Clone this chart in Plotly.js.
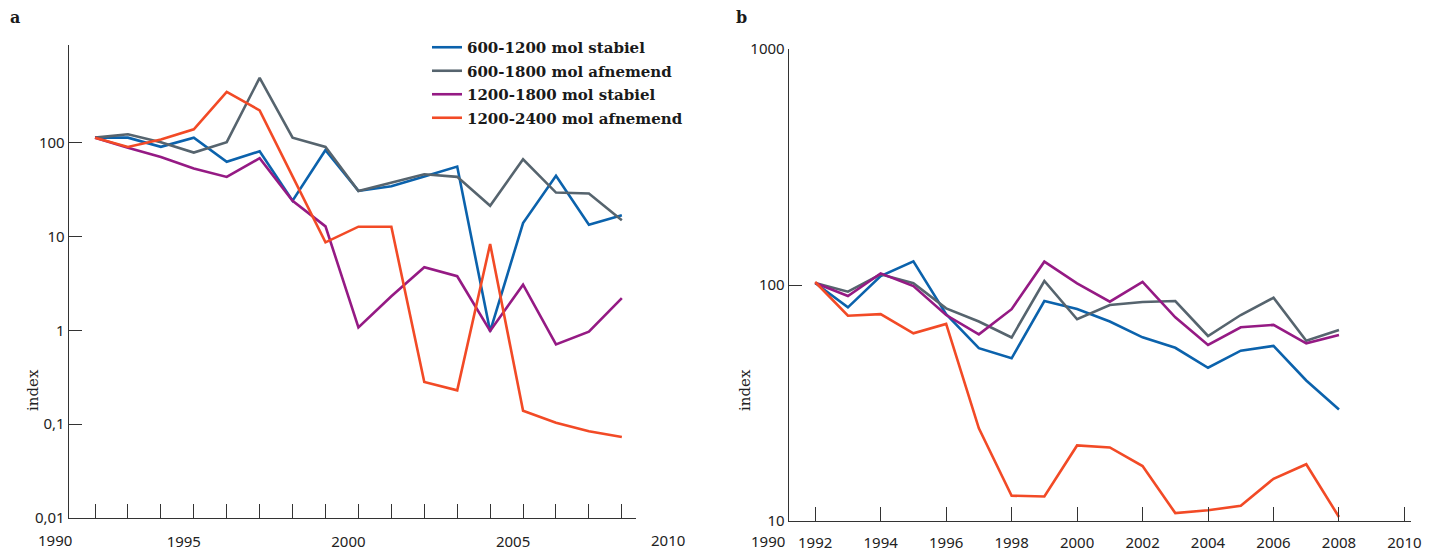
<!DOCTYPE html>
<html>
<head>
<meta charset="utf-8">
<script src="https://cdn.plot.ly/plotly-3.0.1.min.js"></script>
<style>
  html, body { margin: 0; padding: 0; background: #ffffff; }
  #chart { width: 1439px; height: 553px; }
</style>
</head>
<body>
<div id="chart"></div>
<script>
// ---------- data ----------
const years = [1992,1993,1994,1995,1996,1997,1998,1999,2000,2001,2002,2003,2004,2005,2006,2007,2008];
const seriesNames = ['600-1200 mol stabiel','600-1800 mol afnemend','1200-1800 mol stabiel','1200-2400 mol afnemend'];

// panel a
const aBlue   = [114,114,91,114,63,81.5,24.2,84,30.8,34.5,44,56,0.98,14,44.6,13.4,17];
const aGray   = [114,124,102,79,102,495,114,90.6,30.8,37.8,46.4,43.5,21.4,67,29.6,28.9,15];
const aPurple = [114,89,71,53.4,43.4,68.8,24.2,12.9,1.08,2.32,4.72,3.79,0.99,3.08,0.71,0.97,2.21];
const aOrange = [114,90.6,109,140,351,223,44,8.7,12.8,12.8,0.282,0.23,8.36,0.139,0.104,0.084,0.073];

// panel b
const bBlue   = [102,80.4,109,126,75.3,54,48.9,85.5,79.1,70,60,54.2,44.6,52.7,55.2,39.4,29.7];
const bGray   = [102,93.7,111,101.7,79.6,70,59.9,104,71.6,82.3,84.7,85.5,60.8,74.6,88.3,58,64.4];
const bPurple = [102,89.8,112,99,74.6,61.8,79,125.6,101.7,85,103,73,55.7,66.2,67.8,56.6,61.4];
const bOrange = [103,74.1,75.3,62.4,68.4,24.7,12.8,12.7,20.9,20.5,17.1,10.8,11.1,11.6,15.1,17.4,10.4];

// tick labels
const aYTickVals = [0.01,0.1,1,10,100];
const aYTickText = ['0,01','0,1','1','10','100'];
const bYTickVals = [10,100,1000];
const bYTickText = ['10','100','1000'];
const aXLabelYears = [1995,2000,2005];
const bXTickVals = [1992,1994,1996,1998,2000,2002,2004,2006,2008,2010];
const outerLabels = ['1990','2010'];

// ---------- styling ----------
const colors = ['#0b62ac','#56646e','#951a84','#f24a26'];
const W = 1439, H = 553;
const px = v => v / W;
const py = v => 1 - v / H;
const tickFont = {family: 'Noto Sans, Liberation Sans, sans-serif', size: 15, color: '#222'};
const axisCol = '#333';

const aSets = [aBlue, aGray, aPurple, aOrange];
const bSets = [bBlue, bGray, bPurple, bOrange];

const traces = [];
aSets.forEach((ys, i) => traces.push({
  x: years, y: ys, type: 'scatter', mode: 'lines', name: seriesNames[i],
  legendgroup: 'g' + i, xaxis: 'x', yaxis: 'y',
  line: {color: colors[i], width: 2.6}, hoverinfo: 'skip'
}));
bSets.forEach((ys, i) => traces.push({
  x: years, y: ys, type: 'scatter', mode: 'lines', name: seriesNames[i],
  legendgroup: 'g' + i, showlegend: false, xaxis: 'x2', yaxis: 'y2',
  line: {color: colors[i], width: 2.6}, hoverinfo: 'skip'
}));

const baseAxis = {
  showline: true, linecolor: axisCol, linewidth: 1.3,
  ticks: 'inside', tickcolor: axisCol, tickwidth: 1,
  showgrid: false, zeroline: false, fixedrange: true,
  tickfont: tickFont, automargin: false
};

const ann = (text, x, y, extra) => Object.assign({
  text: text, xref: 'paper', yref: 'paper', x: px(x), y: py(y),
  xanchor: 'center', yanchor: 'middle', showarrow: false, font: tickFont
}, extra || {});

const layout = {
  width: W, height: H,
  margin: {l: 0, r: 0, t: 0, b: 0},
  paper_bgcolor: '#ffffff', plot_bgcolor: '#ffffff',
  showlegend: true,
  legend: {
    x: px(427), y: py(31), xanchor: 'left', yanchor: 'top',
    bgcolor: 'rgba(0,0,0,0)',
    font: {family: 'DejaVu Serif, serif', size: 15, color: '#1a1a1a', weight: 'bold'},
    tracegroupgap: 1
  },
  xaxis: Object.assign({}, baseAxis, {
    domain: [px(69), px(636)], anchor: 'y',
    range: [1991.21, 2008.43],
    tickmode: 'array', tickvals: years,
    ticktext: years.map(y => aXLabelYears.includes(y) ? String(y) : ''),
    ticklen: 14, ticklabelshift: -10, ticklabelstandoff: 10
  }),
  yaxis: Object.assign({}, baseAxis, {
    domain: [py(518), py(45)], anchor: 'x',
    type: 'log', range: [-2, 3.045],
    tickmode: 'array', tickvals: aYTickVals, ticktext: aYTickText,
    ticklen: 13
  }),
  xaxis2: Object.assign({}, baseAxis, {
    domain: [px(789), px(1411)], anchor: 'y2',
    range: [1991.2, 2010.2],
    tickmode: 'array', tickvals: bXTickVals, ticktext: bXTickVals.map(String),
    ticklen: 14, ticklabelstandoff: 8
  }),
  yaxis2: Object.assign({}, baseAxis, {
    domain: [py(521), py(49)], anchor: 'x2',
    type: 'log', range: [1, 3],
    tickmode: 'array', tickvals: bYTickVals, ticktext: bYTickText,
    ticklen: 13
  }),
  annotations: [
    ann('a', 15, 17, {font: {family: 'DejaVu Serif, serif', size: 16, color: '#1a1a1a', weight: 'bold'}}),
    ann('b', 741, 17, {font: {family: 'DejaVu Serif, serif', size: 16, color: '#1a1a1a', weight: 'bold'}}),
    ann('index', 33, 390, {textangle: -90, font: {family: 'DejaVu Serif, serif', size: 15, color: '#222'}}),
    ann('index', 745, 390, {textangle: -90, font: {family: 'DejaVu Serif, serif', size: 15, color: '#222'}}),
    ann(outerLabels[0], 55, 540),
    ann(outerLabels[1], 668, 540),
    ann(outerLabels[0], 768, 541)
  ]
};

Plotly.newPlot('chart', traces, layout, {displayModeBar: false, staticPlot: true});
</script>
</body>
</html>
